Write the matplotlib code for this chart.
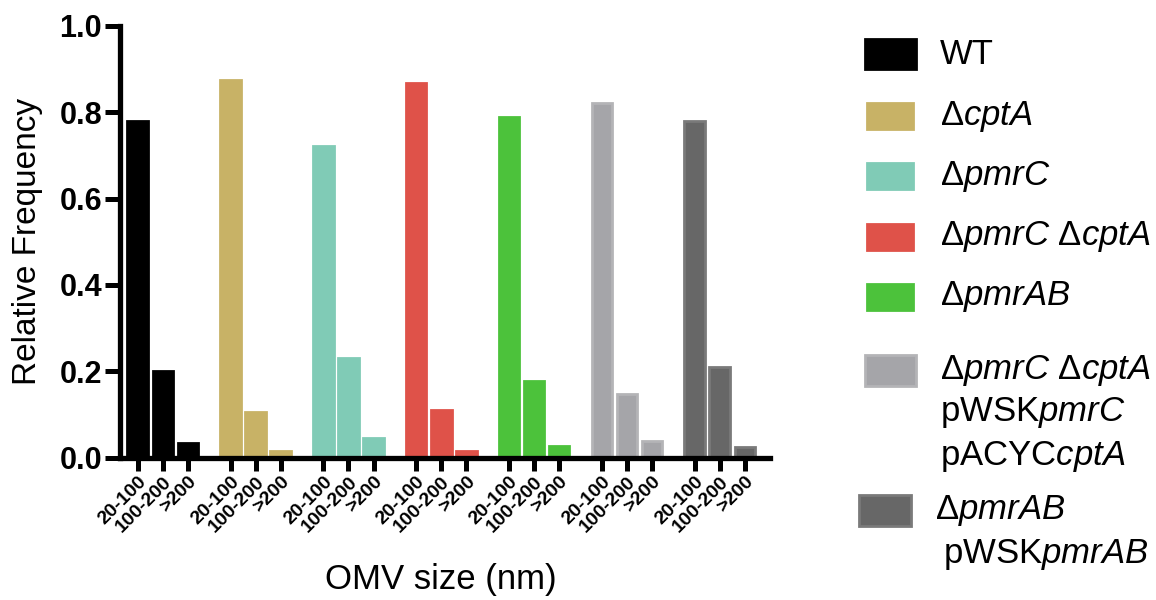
import numpy as np
import matplotlib
matplotlib.use("Agg")
import matplotlib.pyplot as plt
from matplotlib.patches import Rectangle

plt.rcParams['font.family'] = ['Liberation Sans', 'DejaVu Sans']
plt.rcParams['mathtext.fontset'] = 'custom'
plt.rcParams['mathtext.it'] = 'Liberation Sans:italic'
plt.rcParams['mathtext.rm'] = 'Liberation Sans'

# === dados ===
size_bins = ["20-100", "100-200", ">200"]
strains = ["WT", "cptA", "pmrC", "pmrC cptA", "pmrAB", "compl pmrC cptA", "compl pmrAB"]
wt = [0.78, 0.20, 0.035]
d_cpta = [0.875, 0.105, 0.015]
d_pmrc = [0.722, 0.23, 0.046]
d_pmrc_cpta = [0.868, 0.11, 0.016]
d_pmrab = [0.79, 0.177, 0.028]
c_pmrc_cpta = [0.822, 0.148, 0.04]
c_pmrab = [0.78, 0.21, 0.025]
values = [wt, d_cpta, d_pmrc, d_pmrc_cpta, d_pmrab, c_pmrc_cpta, c_pmrab]

colors = ["#000000", "#c8b266", "#80cbb6", "#df5249", "#4cc23b", "#a5a5a9", "#676767"]
edges = ["#000000", "#c8b266", "#80cbb6", "#df5249", "#4cc23b", "#b4b4b7", "#7a7a7a"]
legend_labels = [
    ["WT"],
    [r"$\Delta\it{cptA}$"],
    [r"$\Delta\it{pmrC}$"],
    [r"$\Delta\it{pmrC}$ $\Delta\it{cptA}$"],
    [r"$\Delta\it{pmrAB}$"],
    [r"$\Delta\it{pmrC}$ $\Delta\it{cptA}$", r"pWSK$\it{pmrC}$", r"pACYC$\it{cptA}$"],
    [r"$\Delta\it{pmrAB}$", r"pWSK$\it{pmrAB}$"],
]

fig = plt.figure(figsize=(11.56, 6), dpi=100)
ax = fig.add_axes([0.104, 0.237, 0.562, 0.72])

group_gap = 3.7
xs, xl = [], []
for i, vals in enumerate(values):
    pos = i * group_gap + np.arange(len(vals))
    ax.bar(pos, vals, width=0.82, color=colors[i], edgecolor=edges[i], linewidth=2)
    xs.extend(pos)
    xl.extend(size_bins)

ax.set_xlim(-0.7, xs[-1] + 1.0)
ax.set_ylim(0, 1.0)
ax.set_yticks(np.arange(0, 1.01, 0.2))
ax.set_yticklabels([f"{v:.1f}" for v in np.arange(0, 1.01, 0.2)], fontsize=22, fontweight='bold')
ax.set_xticks(xs)
ax.set_xticklabels(xl, rotation=45, ha='right', rotation_mode='anchor', fontsize=14, fontweight='bold')

for s in ["top", "right"]:
    ax.spines[s].set_visible(False)
for s in ["left", "bottom"]:
    ax.spines[s].set_linewidth(3.8)
ax.tick_params(axis='x', length=9, width=3.6, pad=2)
ax.tick_params(axis='y', length=11, width=3.6, pad=2)

ax.set_ylabel("Relative Frequency", fontsize=24, labelpad=12)
fig.text(0.381, 0.035, "OMV size (nm)", fontsize=25, ha='center', va='center')

# legenda manual (px da figura)
W, H = 1156, 600
row_y = [54, 116, 176, 237, 297, 370, 510]
line_step = [0, 0, 0, 0, 0, 43, 45]
rect_x = [865, 867, 867, 867, 867, 865, 859]
rect_w = [51, 46, 46, 46, 46, 51, 52]
rect_h = [30, 26, 26, 26, 26, 31, 31]
text_x = [[940], [940], [940], [940], [940], [940, 940, 940], [935, 943]]
for i, labs in enumerate(legend_labels):
    y = row_y[i]
    fig.add_artist(Rectangle((rect_x[i] / W, 1 - (y + rect_h[i] / 2) / H), rect_w[i] / W, rect_h[i] / H,
                             transform=fig.transFigure, facecolor=colors[i],
                             edgecolor=edges[i], linewidth=2))
    for k, lab in enumerate(labs):
        fig.text(text_x[i][k] / W, 1 - (y + k * line_step[i]) / H, lab, fontsize=25,
                 ha='left', va='center')

fig.savefig("out.png", dpi=100)
